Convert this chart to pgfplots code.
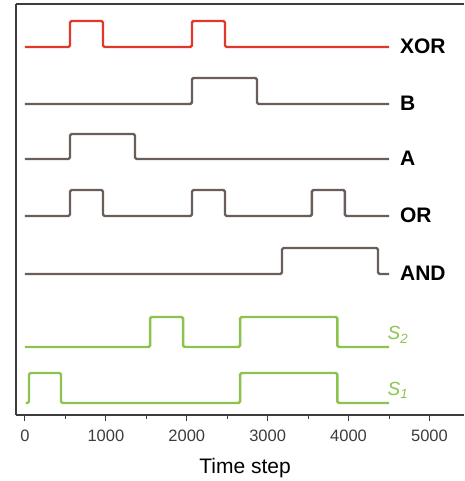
\documentclass[border=0pt]{standalone}
\usepackage{fontspec}
\setmainfont{Liberation Sans}
\usepackage{pgfplots}
\pgfplotsset{compat=1.18}

\definecolor{xorred}{HTML}{E2382C}
\definecolor{gatebrown}{HTML}{6A5E5A}
\definecolor{sgreen}{HTML}{8CC34E}
\definecolor{axisgray}{HTML}{3C3C3C}

\begin{document}
\begin{tikzpicture}
\begin{axis}[
    scale only axis, width=448pt, height=411pt,
    at={(0,0)}, anchor=south west,
    xmin=-111, xmax=5427, ymin=0, ymax=411,
    axis x line=bottom, axis y line=left,
    axis line style={-, line width=1.2pt, color=axisgray},
    xtick={0,1000,2000,3000,4000,5000},
    minor x tick num=1,
    xtick align=outside,
    major tick length=6pt, minor tick length=3.5pt,
    every tick/.style={line width=1pt, color=axisgray},
    ytick=\empty,
    /pgf/number format/assume math mode=true,
    /pgf/number format/set thousands separator={},
    tick label style={font=\fontsize{16.5}{19}\selectfont, color=axisgray},
    xticklabel style={yshift=-5pt},
    xlabel={Time step},
    xlabel style={font=\fontsize{21}{24}\selectfont, color=black, xshift=5pt, yshift=-10pt},
    clip=false,
    every axis plot/.append style={line width=2.4pt, rounded corners=1.5pt, mark=none},
]
% top frame line (no right spine in the reference)
\draw[line width=1.2pt, color=axisgray] (rel axis cs:0,1) -- (rel axis cs:1,1);

% XOR
\addplot[xorred] coordinates {
    (0,368)(556,368)(556,394)(964,394)(964,368)
    (2064,368)(2064,394)(2472,394)(2472,368)(4500,368)
};
% B
\addplot[gatebrown] coordinates {
    (0,311)(2064,311)(2064,337)(2868,337)(2868,311)(4500,311)
};
% A
\addplot[gatebrown] coordinates {
    (0,256)(556,256)(556,281)(1360,281)(1360,256)(4500,256)
};
% OR
\addplot[gatebrown] coordinates {
    (0,199)(556,199)(556,225)(964,225)(964,199)
    (2064,199)(2064,225)(2472,225)(2472,199)
    (3547,199)(3547,225)(3955,225)(3955,199)(4500,199)
};
% AND
\addplot[gatebrown] coordinates {
    (0,141)(3177,141)(3177,167)(4364,167)(4364,141)(4500,141)
};
% S2
\addplot[sgreen] coordinates {
    (0,68)(1547,68)(1547,98)(1955,98)(1955,68)
    (2660,68)(2660,98)(3861,98)(3861,68)(4500,68)
};
% S1
\addplot[sgreen] coordinates {
    (10,12)(50,12)(50,42)(445,42)(445,12)
    (2660,12)(2660,42)(3861,42)(3861,12)(4500,12)
};

\begin{scope}[every node/.style={anchor=west, inner sep=0pt, font=\fontsize{21}{24}\bfseries}]
\node at (axis cs:4635,369) {XOR};
\node at (axis cs:4635,312) {B};
\node at (axis cs:4635,257) {A};
\node at (axis cs:4635,200) {OR};
\node at (axis cs:4635,142) {AND};
\end{scope}
\begin{scope}[every node/.style={anchor=west, inner sep=0pt, color=sgreen, font=\fontsize{19}{22}\selectfont}]
\node at (axis cs:4480,80) {\textit{S}\textsubscript{\textit{2}}};
\node at (axis cs:4480,25) {\textit{S}\textsubscript{\textit{1}}};
\end{scope}
\end{axis}
\pgfresetboundingbox
\path[use as bounding box] (-16pt,-66pt) rectangle (448pt,415pt);
\end{tikzpicture}
\end{document}
